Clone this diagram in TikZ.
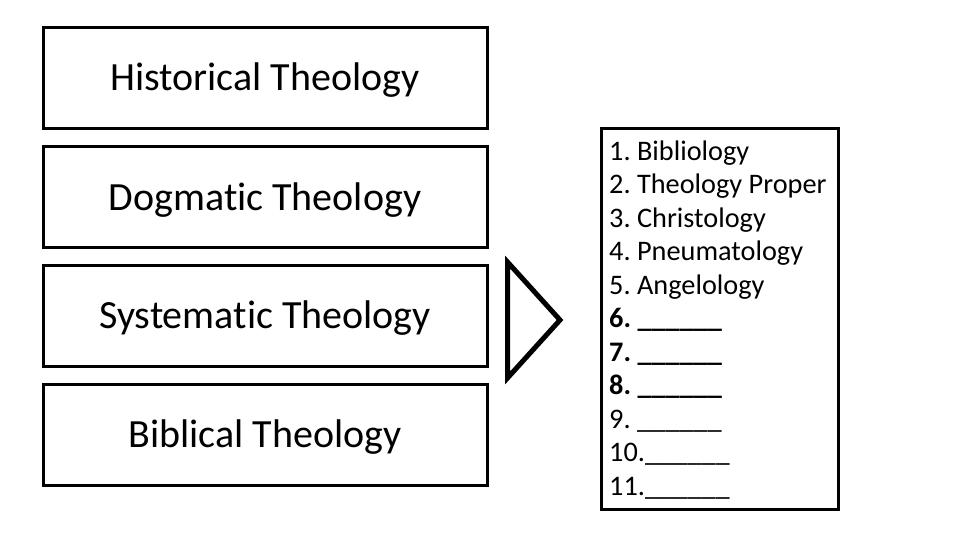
\documentclass[tikz,border=0pt]{standalone}
\usepackage{fontspec}
\setmainfont{Carlito}[Ligatures=NoCommon]
\frenchspacing
\begin{document}
\begin{tikzpicture}[x=1pt,y=-1pt,
  catbox/.style={draw=black,line width=3pt,minimum width=444pt,minimum height=101pt,inner sep=0pt,
    text height=26pt,text depth=0pt,font=\fontsize{40}{44}\selectfont},
  listframe/.style={draw=black,line width=3pt,minimum width=237pt,minimum height=381pt,inner sep=0pt},
  listtext/.style={align=left,inner sep=0pt,font=\fontsize{28.3}{33.5}\selectfont}]
\useasboundingbox[fill=white] (0,0) rectangle (960,540);
\node[catbox] (hist) at (265,78) {Historical Theology};
\node[catbox] (dogm) at (265,197) {Dogmatic Theology};
\node[catbox] (syst) at (265,315.5) {Systematic Theology};
\node[catbox] (bibl) at (265,434.5) {Biblical Theology};
\draw[line width=5pt,line join=miter] (507.5,262) -- (560,320) -- (507.5,378) -- cycle;
\node[listframe] (list) at (719.5,319) {};
\node[listtext,anchor=base west] (items) at (609,495) {1. Bibliology\\
2. Theology Proper\\
3. Christology\\
4. Pneumatology\\
5. Angelology\\
\textbf{6. \_\_\_\_\_\_}\\
\textbf{7. \_\_\_\_\_\_}\\
\textbf{8. \_\_\_\_\_\_}\\
9. \_\_\_\_\_\_\\
10.\_\_\_\_\_\_\\
11.\_\_\_\_\_\_};
\end{tikzpicture}
\end{document}
